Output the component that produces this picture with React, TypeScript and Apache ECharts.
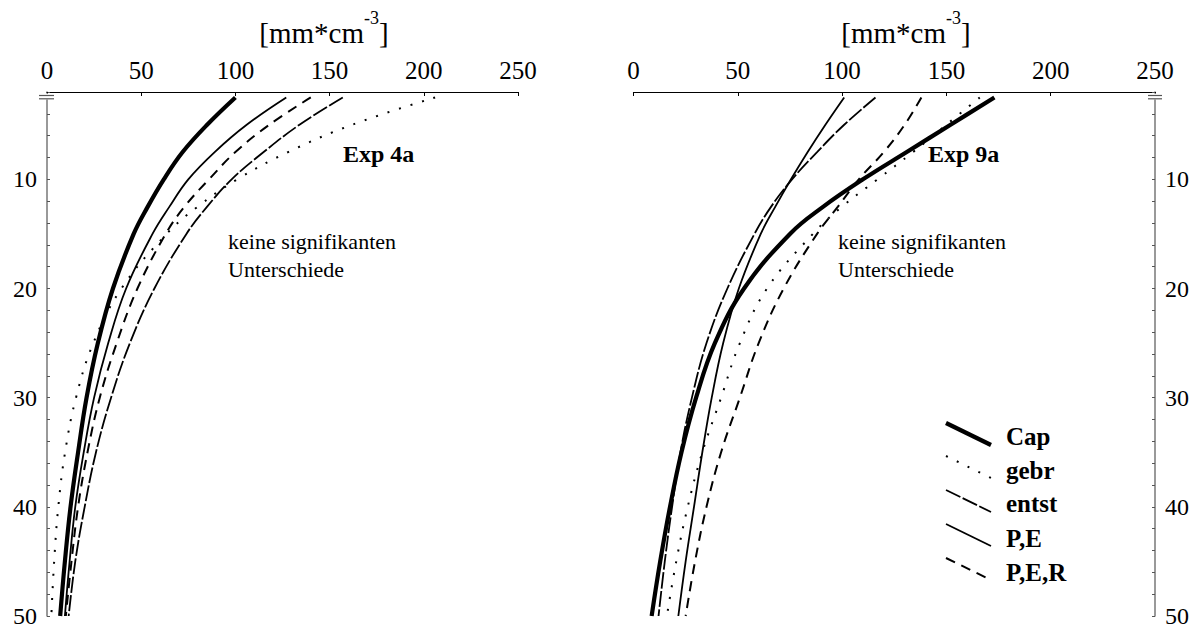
import React, { useEffect, useRef } from "react";
import * as echarts from "echarts";

// depth [cm] at which the curves are sampled
const depths = [2.5, 5, 7.5, 10, 12.5, 15, 20, 25, 30, 35, 40, 45, 50];

// Exp 4a (left panel)
const cap4a = [100, 85, 72, 62, 53.5, 46, 35, 27, 21, 16.5, 12.5, 9.5, 7];
const gebr4a = [206, 162, 128, 101, 80, 63.5, 39.5, 24.6, 15.4, 9.6, 6, 3.8, 2.3];
const entst4a = [157, 134, 115, 98, 85, 74, 57, 44, 34, 26, 20, 15, 11.5];
const pe4a = [127, 106, 89, 75, 65, 56, 42, 32.5, 25, 19.5, 15, 12, 9.5];
const per4a = [140, 118, 100, 86, 73, 63, 48, 37, 28, 21.5, 16.5, 13, 10];

// Exp 9a (right panel)
const cap9a = [173, 152, 131, 110, 91, 75, 53, 39, 30, 23, 17.5, 12.8, 8.7];
const gebr9a = [166, 150, 134, 117, 100, 86, 64, 51, 42, 33, 26, 20.5, 16];
const entst9a = [116, 101, 88, 76, 66, 58, 45, 35, 28, 22.5, 18.5, 15, 12];
const pe9a = [101, 92, 83.5, 75.5, 68, 61, 50.5, 43, 37.5, 33, 29, 25, 21.5];
const per9a = [138, 130, 120, 108, 98, 88, 72, 60, 51, 42, 35, 29.5, 25];

const legendNames = ["Cap", "gebr", "entst", "P,E", "P,E,R"];
const xTicks = { min: 0, max: 250, interval: 50 };
const yTicks = { min: 2, max: 50, interval: 2, labelEvery: 10 };
const panelLabels = ["Exp 4a", "Exp 9a"];
const noteLines = ["keine signifikanten", "Unterschiede"];

const FAMILY = "Liberation Serif";

const lineStyles: Record<string, any> = {
  Cap: { color: "#000", width: 4.2, type: "solid" },
  gebr: { color: "#000", width: 2, type: [2, 10], cap: "butt" },
  entst: { color: "#000", width: 1.8, type: [16, 2.5] },
  "P,E": { color: "#000", width: 1.8, type: "solid" },
  "P,E,R": { color: "#000", width: 2, type: [10, 7] },
};

function measure(text: string, size: number) {
  const c = document.createElement("canvas").getContext("2d")!;
  c.font = `${size}px "${FAMILY}"`;
  return c.measureText(text).width;
}

function txt(x: number, y: number, text: string, size: number, bold = false) {
  return {
    type: "text",
    x,
    y,
    style: {
      text,
      fontSize: size,
      fontFamily: FAMILY,
      fontWeight: bold ? "bold" : "normal",
      fill: "#000",
      verticalAlign: "middle",
    },
  };
}

export default function App() {
  const ref = useRef<HTMLDivElement>(null);
  useEffect(() => {
    const chart = echarts.init(ref.current!, null, { renderer: "svg" });
    const pair = (vals: number[]) => vals.map((v, i) => [v, depths[i]]);

    const panels = [
      { cap: cap4a, gebr: gebr4a, entst: entst4a, pe: pe4a, per: per4a },
      { cap: cap9a, gebr: gebr9a, entst: entst9a, pe: pe9a, per: per9a },
    ];

    const series: any[] = [];
    panels.forEach((p, gi) => {
      const sets: [string, number[]][] = [
        ["gebr", p.gebr],
        ["entst", p.entst],
        ["P,E", p.pe],
        ["P,E,R", p.per],
        ["Cap", p.cap],
      ];
      sets.forEach(([name, vals]) => {
        series.push({
          type: "line",
          name,
          xAxisIndex: gi,
          yAxisIndex: gi,
          data: pair(vals),
          smooth: 0.4,
          showSymbol: false,
          symbol: "none",
          lineStyle: lineStyles[name],
          silent: true,
        });
      });
    });

    const xAxis = [0, 1].map((gi) => ({
      type: "value",
      gridIndex: gi,
      position: "top",
      min: xTicks.min,
      max: xTicks.max,
      interval: xTicks.interval,
      axisLine: { show: true, lineStyle: { color: "#000", width: 1.2 } },
      axisTick: { show: true, inside: true, length: 4, lineStyle: { color: "#000" } },
      axisLabel: { fontFamily: FAMILY, fontSize: 25, color: "#000", margin: 9 },
      splitLine: { show: false },
    }));

    const yAxis = [0, 1].map((gi) => ({
      type: "value",
      gridIndex: gi,
      position: gi === 0 ? "left" : "right",
      inverse: true,
      min: yTicks.min,
      max: yTicks.max,
      interval: yTicks.interval,
      axisLine: { show: true, onZero: false, lineStyle: { color: "#777", width: 1.5 } },
      axisTick: { show: true, inside: true, length: 3, lineStyle: { color: "#555" } },
      axisLabel: {
        fontFamily: FAMILY,
        fontSize: 24,
        color: "#000",
        margin: 10,
        formatter: (v: number) => (v % yTicks.labelEvery === 0 ? String(v) : ""),
      },
      splitLine: { show: false },
    }));

    const graphics: any[] = [];
    // axis titles with superscript
    const titleCenters = [324, 906];
    titleCenters.forEach((cx) => {
      const w1 = measure("[mm*cm", 29);
      const w2 = measure("-3", 18);
      const w3 = measure("]", 29);
      const x0 = cx - (w1 + w2 + w3) / 2;
      graphics.push(txt(x0, 33, "[mm*cm", 29), txt(x0 + w1, 18, "-3", 18), txt(x0 + w1 + w2, 33, "]", 29));
    });

    // axis break markers
    [
      [39, 54, 47],
      [1148, 1162, 1155],
    ].forEach(([a, b, ax]) => {
      graphics.push(
        { type: "rect", shape: { x: ax - 3, y: 93.5, width: 6, height: 6 }, style: { fill: "#fff" }, z: 50 },
        { type: "line", shape: { x1: a, y1: 95.5, x2: b, y2: 95.5 }, style: { stroke: "#555", lineWidth: 1.2 }, z: 51 },
        { type: "line", shape: { x1: a, y1: 98.8, x2: b, y2: 98.8 }, style: { stroke: "#555", lineWidth: 1.2 }, z: 51 }
      );
    });

    // panel annotations
    const labelPos = [
      { ex: 343, nx: 228 },
      { ex: 928, nx: 838 },
    ];
    labelPos.forEach((p, i) => {
      graphics.push(
        txt(p.ex, 154, panelLabels[i], 24, true),
        txt(p.nx, 241, noteLines[0], 22),
        txt(p.nx, 269, noteLines[1], 22)
      );
    });

    // legend (slanted samples)
    const legY = [423, 456, 490, 524, 558];
    const legTextY = [436, 470, 503, 538, 572];
    legendNames.forEach((name, i) => {
      const st = lineStyles[name];
      graphics.push(
        {
          type: "line",
          shape: { x1: 946, y1: legY[i], x2: 991, y2: legY[i] + 22 },
          style: {
            stroke: "#000",
            lineWidth: st.width,
            lineDash: Array.isArray(st.type) ? st.type : null,
            lineCap: "butt",
          },
        },
        txt(1006, legTextY[i], name, 25, true)
      );
    });

    chart.setOption({
      animation: false,
      backgroundColor: "#fff",
      grid: [
        { left: 47, top: 92, width: 471, height: 525 },
        { left: 633.5, top: 92, width: 521.5, height: 525 },
      ],
      xAxis,
      yAxis,
      series,
      graphic: graphics,
    });
    return () => chart.dispose();
  }, []);
  return (
    <div
      ref={ref}
      style={{ position: "fixed", left: 0, top: 0, width: 1198, height: 628, background: "#fff" }}
    />
  );
}
